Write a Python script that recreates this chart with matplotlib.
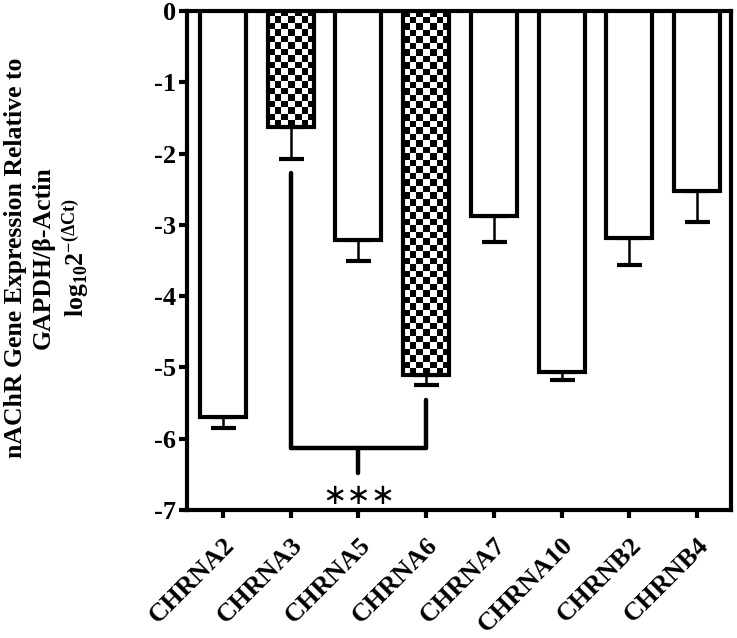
import numpy as np
import matplotlib
matplotlib.use("Agg")
import matplotlib.pyplot as plt

plt.rcParams['font.family'] = ['Liberation Serif', 'DejaVu Serif']
plt.rcParams['font.weight'] = 'bold'
plt.rcParams['mathtext.fontset'] = 'custom'
plt.rcParams['mathtext.rm'] = 'Liberation Serif:bold'
plt.rcParams['mathtext.it'] = 'Liberation Serif:bold'
plt.rcParams['mathtext.bf'] = 'Liberation Serif:bold'

# data
genes = ['CHRNA2', 'CHRNA3', 'CHRNA5', 'CHRNA6', 'CHRNA7', 'CHRNA10', 'CHRNB2', 'CHRNB4']
means = [-5.69, -1.63, -3.21, -5.11, -2.87, -5.06, -3.18, -2.52]
errs = [0.16, 0.45, 0.29, 0.14, 0.37, 0.11, 0.39, 0.44]
checkered = [False, True, False, True, False, False, False, False]

# significance bracket CHRNA3 vs CHRNA6
sig_pair = (1, 3)
sig_level = -6.13
sig_label = '\u2217\u2217\u2217'

fig = plt.figure(figsize=(7.37, 6.38), dpi=100)
ax = fig.add_axes([187/737, 1-510/638, 544/737, 499/638])

x = np.arange(len(genes))
w = 0.68
ax.set_xlim(-0.53, 7.5)
ax.set_ylim(-7, 0)

bars = ax.bar(x, means, width=w, color='white', edgecolor='black', linewidth=3, zorder=3)
ax.errorbar(x, means, yerr=[errs, [0]*len(errs)], fmt='none', ecolor='black',
            elinewidth=1.8, capsize=9, capthick=3, zorder=2)

# checker texture for the two highlighted bars
fig.canvas.draw()
cell = 6.5
for i, b in enumerate(bars):
    if not checkered[i]:
        continue
    x0, y0 = b.get_x(), b.get_y() + b.get_height()
    x1, y1 = b.get_x() + b.get_width(), b.get_y()
    p0 = ax.transData.transform((x0, y0))
    p1 = ax.transData.transform((x1, y1))
    nx = max(1, int(round(abs(p1[0]-p0[0]) / cell)))
    ny = max(1, int(round(abs(p1[1]-p0[1]) / cell)))
    board = (np.add.outer(np.arange(ny), np.arange(nx)) % 2).astype(float)
    im = ax.imshow(board, cmap='gray', extent=(x0, x1, y0, y1), aspect='auto',
                   interpolation='nearest', zorder=3.5)
    im.set_clip_path(b)
    b.set_facecolor('none')
    b.set_zorder(4)
ax.set_xlim(-0.53, 7.5)
ax.set_ylim(-7, 0)

# bracket
i, j = sig_pair
lw = 3.2
ax.plot([x[i], x[i]], [means[i]-errs[i]-0.19, sig_level], color='black', lw=lw, solid_capstyle='round', zorder=5)
ax.plot([x[j], x[j]], [means[j]-errs[j]-0.21, sig_level], color='black', lw=lw, solid_capstyle='round', zorder=5)
ax.plot([x[i], x[j]], [sig_level, sig_level], color='black', lw=lw, solid_capstyle='round', zorder=5)
mid = (x[i] + x[j]) / 2
ax.plot([mid, mid], [sig_level, -6.48], color='black', lw=lw, solid_capstyle='round', zorder=5)
ax.text(mid, -6.8, sig_label, ha='center', va='center', fontsize=21,
        fontweight='normal', family='DejaVu Sans')

for s in ax.spines.values():
    s.set_linewidth(3)
ax.set_yticks(range(0, -8, -1))
ax.set_yticklabels([str(v) for v in range(0, -8, -1)], fontsize=19, fontweight='bold')
ax.set_xticks(x)
ax.set_xticklabels(genes, rotation=45, ha='right', va='top', rotation_mode='anchor',
                   fontsize=19, fontweight='bold')
ax.tick_params(axis='both', direction='out', length=6, width=3)
ax.tick_params(axis='x', pad=11)
ax.tick_params(axis='y', pad=2)

fig.text(48/737, 1-258/638,
         'nAChR Gene Expression Relative to\nGAPDH/\u03b2-Actin\n$\\mathregular{log_{10}2^{-(\\Delta Ct)}}$',
         rotation=90, ha='center', va='center', multialignment='center',
         fontsize=18.5, fontweight='bold', linespacing=1.25)

fig.savefig('out.png', dpi=100)
